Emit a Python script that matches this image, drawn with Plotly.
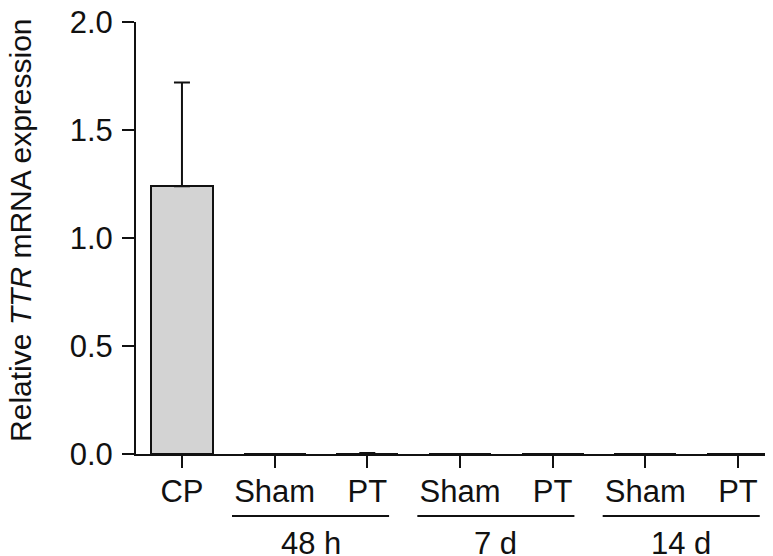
import plotly.graph_objects as go

categories = ["CP", "Sham", "PT", "Sham", "PT", "Sham", "PT"]
values = [1.24, 0.0, 0.002, 0.0, 0.0, 0.0, 0.0]
errors = [0.48, 0.0, 0.003, 0.0, 0.0, 0.0, 0.0]
groups = ["48 h", "7 d", "14 d"]
group_members = [(1, 2), (3, 4), (5, 6)]
y_ticks = [0.0, 0.5, 1.0, 1.5, 2.0]
y_ticklabels = ["0.0", "0.5", "1.0", "1.5", "2.0"]
y_title = "Relative <i>TTR</i> mRNA expression"

FONT = "Liberation Sans, Arial, sans-serif"
FS = 31
INK = "#111111"

xpos = list(range(len(categories)))

fig = go.Figure()
fig.add_trace(go.Bar(
    x=xpos, y=values, width=0.67,
    marker=dict(color="#d3d3d3", line=dict(color=INK, width=2)),
    error_y=dict(type="data", array=errors, arrayminus=[0]*len(errors), symmetric=False,
                 color=INK, thickness=2, width=8),
    showlegend=False,
))

# group underlines and labels
for (a, b), name in zip(group_members, groups):
    x0 = a - 0.46
    x1 = b + 0.235
    fig.add_shape(type="line", xref="x", yref="paper", x0=x0, x1=x1, y0=-0.1435, y1=-0.1435,
                  line=dict(color=INK, width=2))
    fig.add_annotation(x=(x0 + x1) / 2, y=-0.207, xref="x", yref="paper", text=name,
                       showarrow=False, font=dict(family=FONT, size=FS, color=INK),
                       xanchor="center", yanchor="middle")

fig.add_annotation(x=-0.181, y=0.518, xref="paper", yref="paper", text=y_title,
                   textangle=-90, showarrow=False, xanchor="center", yanchor="middle",
                   font=dict(family=FONT, size=30, color=INK))

# the page body has an 8px margin, so the figure is 8px smaller and offset
fig.update_layout(
    width=765, height=548,
    margin=dict(l=128, r=0, t=14, b=102),
    plot_bgcolor="white", paper_bgcolor="white",
    font=dict(family=FONT, size=FS, color=INK),
    bargap=0,
)
fig.update_xaxes(
    range=[-0.496, 6.378], tickmode="array", tickvals=xpos, ticktext=categories,
    showline=True, linecolor=INK, linewidth=2, ticks="outside", ticklen=12, tickwidth=2,
    tickcolor=INK, showgrid=False, zeroline=False, tickfont=dict(size=FS), automargin=False,
    ticklabelstandoff=-3, ticklabeloverflow="allow",
)
fig.update_yaxes(
    range=[0, 2.0], tickmode="array", tickvals=y_ticks, ticktext=y_ticklabels,
    showline=True, linecolor=INK, linewidth=2, ticks="outside", ticklen=12, tickwidth=2,
    tickcolor=INK, showgrid=False, zeroline=False, tickfont=dict(size=FS), automargin=False,
    ticklabelstandoff=3, ticklabeloverflow="allow",
)

fig.write_html("out.html")
